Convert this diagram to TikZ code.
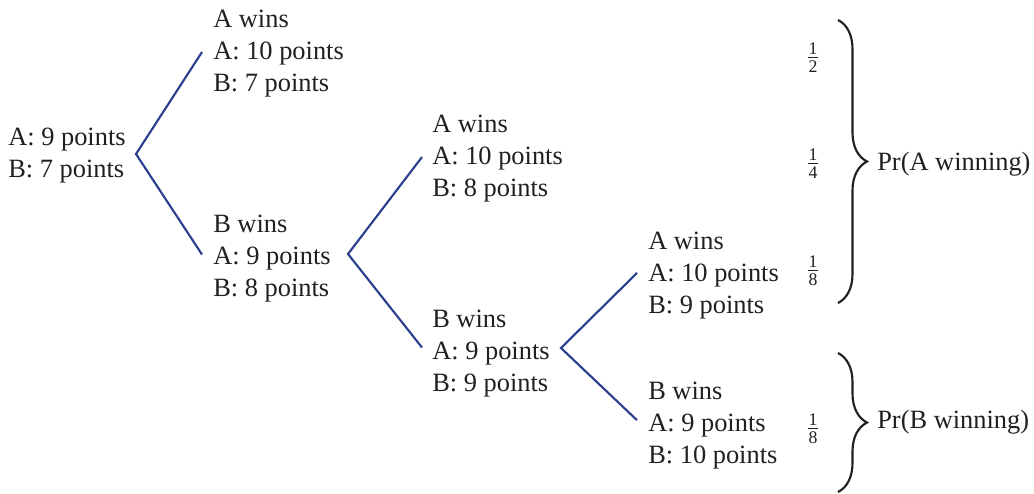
\documentclass[tikz,border=0pt]{standalone}
\usepackage{fontspec}
\setmainfont{Liberation Serif}[Ligatures=TeX]
\usetikzlibrary{decorations.pathreplacing}
\definecolor{branch}{HTML}{2A3F8E}
\definecolor{ink}{HTML}{231F20}
\newcommand{\stackfrac}[2]{\vbox{\offinterlineskip\halign{\hfil\kern0.6pt##\kern0.6pt\hfil\cr #1\cr\noalign{\kern2.2pt\hrule height 0.6pt\kern2.2pt}#2\cr}}}
\begin{document}
\begin{tikzpicture}[x=0.75pt,y=-0.75pt,
  lbl/.style={anchor=west,inner sep=0pt,align=left,font=\rmfamily\fontsize{19.8}{24}\selectfont,text=ink},
  branchline/.style={draw=branch,line width=1.6pt},
  fracnode/.style={inner sep=0pt,font=\rmfamily\fontsize{13.3}{16}\selectfont,text=ink},
  bracestyle/.style={draw=ink,line width=1.6pt,decorate,decoration={brace,amplitude=21.75pt}}]
\useasboundingbox (0,0) rectangle (1034,493);

% tree nodes
\node[lbl] (root) at (8,155.5) {A: 9 points\\B: 7 points};
\node[lbl] (n1) at (213,53.5) {A wins\\A: 10 points\\B: 7 points};
\node[lbl] (n2) at (213,258.5) {B wins\\A: 9 points\\B: 8 points};
\node[lbl] (n3) at (432,158.5) {A wins\\A: 10 points\\B: 8 points};
\node[lbl] (n4) at (432,353.5) {B wins\\A: 9 points\\B: 9 points};
\node[lbl] (n5) at (648,275.5) {A wins\\A: 10 points\\B: 9 points};
\node[lbl] (n6) at (648,425.5) {B wins\\A: 9 points\\B: 10 points};

% branch vertices
\coordinate (v1) at (136,154);
\coordinate (v2) at (348,254);
\coordinate (v3) at (561,348);

\draw[branchline] ([xshift=-8.25pt,yshift=1.1pt]n1.west) -- (v1) -- ([xshift=-8.25pt,yshift=3pt]n2.west);
\draw[branchline] ([xshift=-7.5pt,yshift=1.1pt]n3.west) -- (v2) -- ([xshift=-7.5pt,yshift=4.5pt]n4.west);
\draw[branchline] ([xshift=-8.25pt,yshift=1.9pt]n5.west) -- (v3) -- ([xshift=-8.25pt,yshift=4pt]n6.west);

% fractions
\node[fracnode] (f1) at (813,57.5) {\stackfrac{1}{2}};
\node[fracnode] (f2) at (813,163.5) {\stackfrac{1}{4}};
\node[fracnode] (f3) at (813,270.5) {\stackfrac{1}{8}};
\node[fracnode] (f4) at (813,428.5) {\stackfrac{1}{8}};

% braces
\coordinate (ba1) at (838,20);
\coordinate (ba2) at (838,303);
\coordinate (bb1) at (838,353);
\coordinate (bb2) at (838,492);
\draw[bracestyle] (ba1) -- (ba2);
\draw[bracestyle] (bb1) -- (bb2);

\node[lbl] (pa) at (877,164) {Pr(A winning)};
\node[lbl] (pb) at (877,422) {Pr(B winning)};
\end{tikzpicture}
\end{document}
